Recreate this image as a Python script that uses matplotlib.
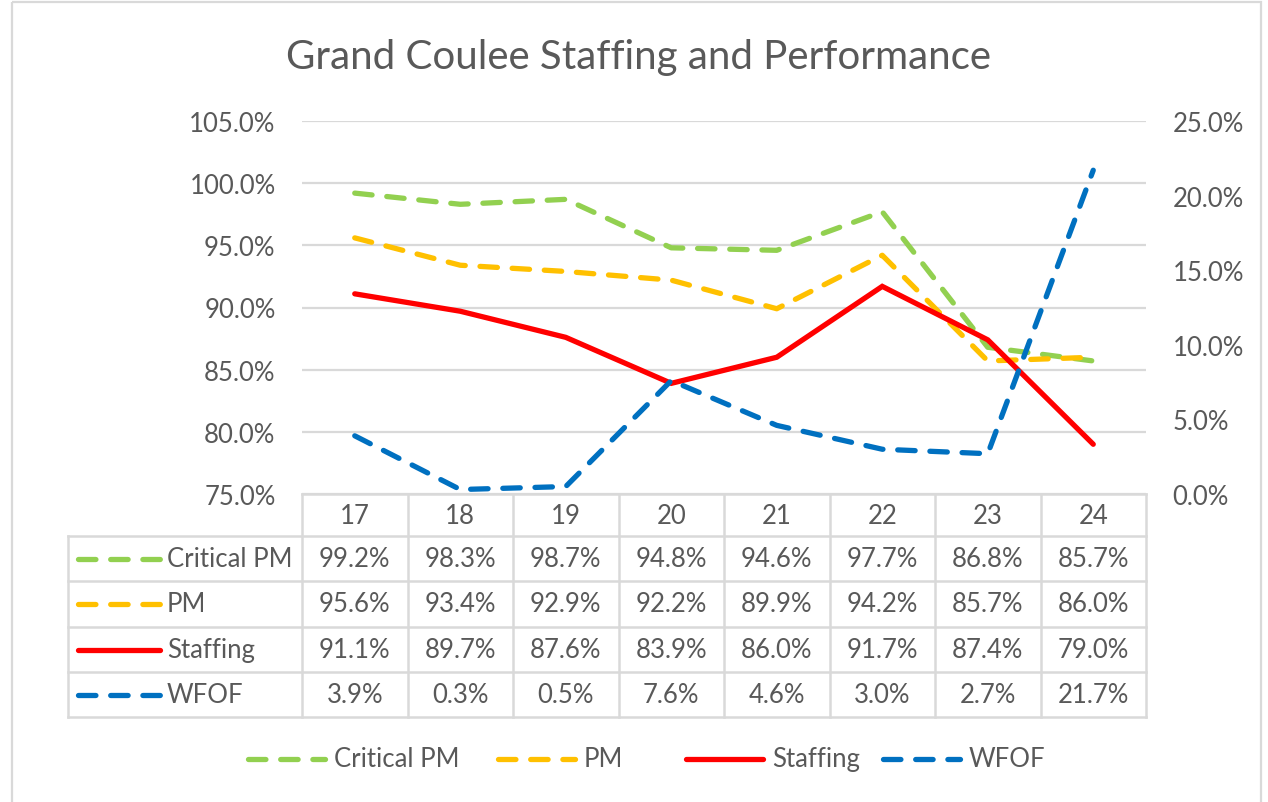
import matplotlib
matplotlib.use("Agg")
import matplotlib.pyplot as plt
from matplotlib.lines import Line2D
from matplotlib.patches import Rectangle

# ---- data ----
years = ["17", "18", "19", "20", "21", "22", "23", "24"]
critical_pm = [99.2, 98.3, 98.7, 94.8, 94.6, 97.7, 86.8, 85.7]
pm = [95.6, 93.4, 92.9, 92.2, 89.9, 94.2, 85.7, 86.0]
staffing = [91.1, 89.7, 87.6, 83.9, 86.0, 91.7, 87.4, 79.0]
wfof = [3.9, 0.3, 0.5, 7.6, 4.6, 3.0, 2.7, 21.7]
series_names = ["Critical PM", "PM", "Staffing", "WFOF"]
left_ticks = [75, 80, 85, 90, 95, 100, 105]
right_ticks = [0, 5, 10, 15, 20, 25]

colors = {"Critical PM": "#92D050", "PM": "#FFC000", "Staffing": "#FF0000", "WFOF": "#0070C0"}
TXT = "#595959"
GRID = "#D9D9D9"
FONT = "Lato"
plt.rcParams["font.family"] = [FONT, "DejaVu Sans"]
FS = 18.5

W, H = 1268, 803
fig = plt.figure(figsize=(W / 100, H / 100), dpi=100)

# background overlay in pixel coords
bg = fig.add_axes([0, 0, 1, 1])
bg.set_xlim(0, W)
bg.set_ylim(H, 0)
bg.axis("off")
bg.add_patch(Rectangle((12, 3), 1249, 820, fill=False, ec=GRID, lw=1.6, clip_on=False))

# plot area
x0, x1, ytop, ybot = 302, 1146, 122, 495
ax = fig.add_axes([x0 / W, 1 - ybot / H, (x1 - x0) / W, (ybot - ytop) / H])
ax.set_xlim(-0.5, len(years) - 0.5)
ax.set_ylim(75, 105)
ax.set_yticks(left_ticks)
ax.set_yticklabels([f"{v:.1f}%" for v in left_ticks])
ax.set_xticks([])
for s in ax.spines.values():
    s.set_visible(False)
ax.grid(axis="y", color=GRID, lw=1.6)
ax.set_axisbelow(True)
ax.tick_params(axis="y", length=0, pad=19, labelsize=FS, labelcolor=TXT)
ax.patch.set_alpha(0)

ax2 = ax.twinx()
ax2.set_ylim(0, 25)
ax2.set_yticks(right_ticks)
ax2.set_yticklabels([f"{v:.1f}%" for v in right_ticks])
for s in ax2.spines.values():
    s.set_visible(False)
ax2.tick_params(axis="y", length=0, pad=19, labelsize=FS, labelcolor=TXT)

xs = list(range(len(years)))
LW = 3.8
dash = (3.3, 2.8)
ax.plot(xs, critical_pm, color=colors["Critical PM"], lw=LW, dashes=dash,
        dash_capstyle="round", solid_capstyle="round", zorder=3)
ax.plot(xs, pm, color=colors["PM"], lw=LW, dashes=dash,
        dash_capstyle="round", zorder=3)
ax.plot(xs, staffing, color=colors["Staffing"], lw=LW,
        solid_capstyle="round", solid_joinstyle="miter", zorder=4)
ax2.plot(xs, wfof, color=colors["WFOF"], lw=LW, dashes=dash,
         dash_capstyle="round", zorder=5)

# title
fig.text(639 / W, 1 - 58 / H, "Grand Coulee Staffing and Performance",
         ha="center", va="center", fontsize=29, color=TXT)

# ---- data table ----
col_edges = [302 + i * (1146 - 302) / len(years) for i in range(len(years) + 1)]
row_edges = [537, 582, 628, 673, 718]
tbl_left = 68
tcol = GRID
tlw = 1.8
# header
bg.plot([col_edges[0], col_edges[-1]], [495, 495], color=tcol, lw=tlw)
for xe in col_edges:
    bg.plot([xe, xe], [495, row_edges[-1]], color=tcol, lw=tlw)
for ye in row_edges:
    bg.plot([tbl_left, col_edges[-1]], [ye, ye], color=tcol, lw=tlw)
bg.plot([tbl_left, tbl_left], [row_edges[0], row_edges[-1]], color=tcol, lw=tlw)

for i, yl in enumerate(years):
    cx = (col_edges[i] + col_edges[i + 1]) / 2
    bg.text(cx, 517, yl, ha="center", va="center", fontsize=FS, color=TXT)

table_data = [critical_pm, pm, staffing, wfof]
for r, (name, vals) in enumerate(zip(series_names, table_data)):
    cy = (row_edges[r] + row_edges[r + 1]) / 2
    for i, v in enumerate(vals):
        cx = (col_edges[i] + col_edges[i + 1]) / 2
        bg.text(cx, cy, f"{v:.1f}%", ha="center", va="center", fontsize=FS, color=TXT)
    kw = dict(color=colors[name], lw=LW, solid_capstyle="round")
    if name != "Staffing":
        kw.update(dashes=dash, dash_capstyle="round")
    bg.add_line(Line2D([78, 160], [cy, cy], **kw))
    bg.text(167, cy, name, ha="left", va="center", fontsize=FS, color=TXT)

# ---- legend ----
leg_items = [(245, "Critical PM"), (495, "PM"), (683, "Staffing"), (880, "WFOF")]
for xs0, name in leg_items:
    kw = dict(color=colors[name], lw=LW, solid_capstyle="round")
    if name != "Staffing":
        kw.update(dashes=dash, dash_capstyle="round")
    bg.add_line(Line2D([xs0 + 3, xs0 + 80], [760, 760], **kw))
    bg.text(xs0 + 89, 760, name, ha="left", va="center", fontsize=FS, color=TXT)

fig.savefig("out.png", dpi=100)
